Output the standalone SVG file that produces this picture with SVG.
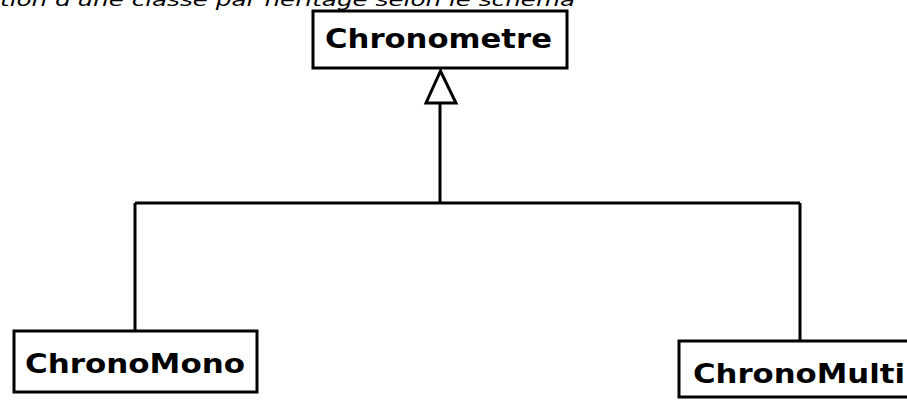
<svg xmlns="http://www.w3.org/2000/svg" width="907" height="400" viewBox="0 0 907 400">
<defs>
<style>
.box{fill:#fff;stroke:#000;stroke-width:3}
.lbl{font-family:"DejaVu Sans","Liberation Sans",sans-serif;font-weight:bold;font-size:26px;fill:#000}
.conn{fill:none;stroke:#000;stroke-width:3}
.head{fill:#fff;stroke:#000;stroke-width:3}
.cap{font-family:"DejaVu Sans","Liberation Sans",sans-serif;font-style:italic;font-size:18px;fill:#000}
</style>
</defs>
<rect width="907" height="400" fill="#fff"/>
<text class="cap" x="0" y="6" textLength="575" lengthAdjust="spacingAndGlyphs">tion d'une classe par héritage selon le schéma</text>
<g id="connectors">
<path class="conn" d="M440,103 V203 M135,203 H800 M135,203 V331 M800,203 V341"/>
<polygon class="head" points="440.5,71 426,103 456,103"/>
</g>
<g id="chronometre">
<rect class="box" x="313" y="11" width="254" height="57"/>
<text class="lbl" x="325" y="48" textLength="227" lengthAdjust="spacingAndGlyphs">Chronometre</text>
</g>
<g id="chronomono">
<rect class="box" x="14" y="331" width="243" height="61"/>
<text class="lbl" x="25" y="373" textLength="220" lengthAdjust="spacingAndGlyphs">ChronoMono</text>
</g>
<g id="chronomulti">
<rect class="box" x="679" y="341" width="240" height="56"/>
<text class="lbl" x="693" y="383" textLength="212" lengthAdjust="spacingAndGlyphs">ChronoMulti</text>
</g>
</svg>
